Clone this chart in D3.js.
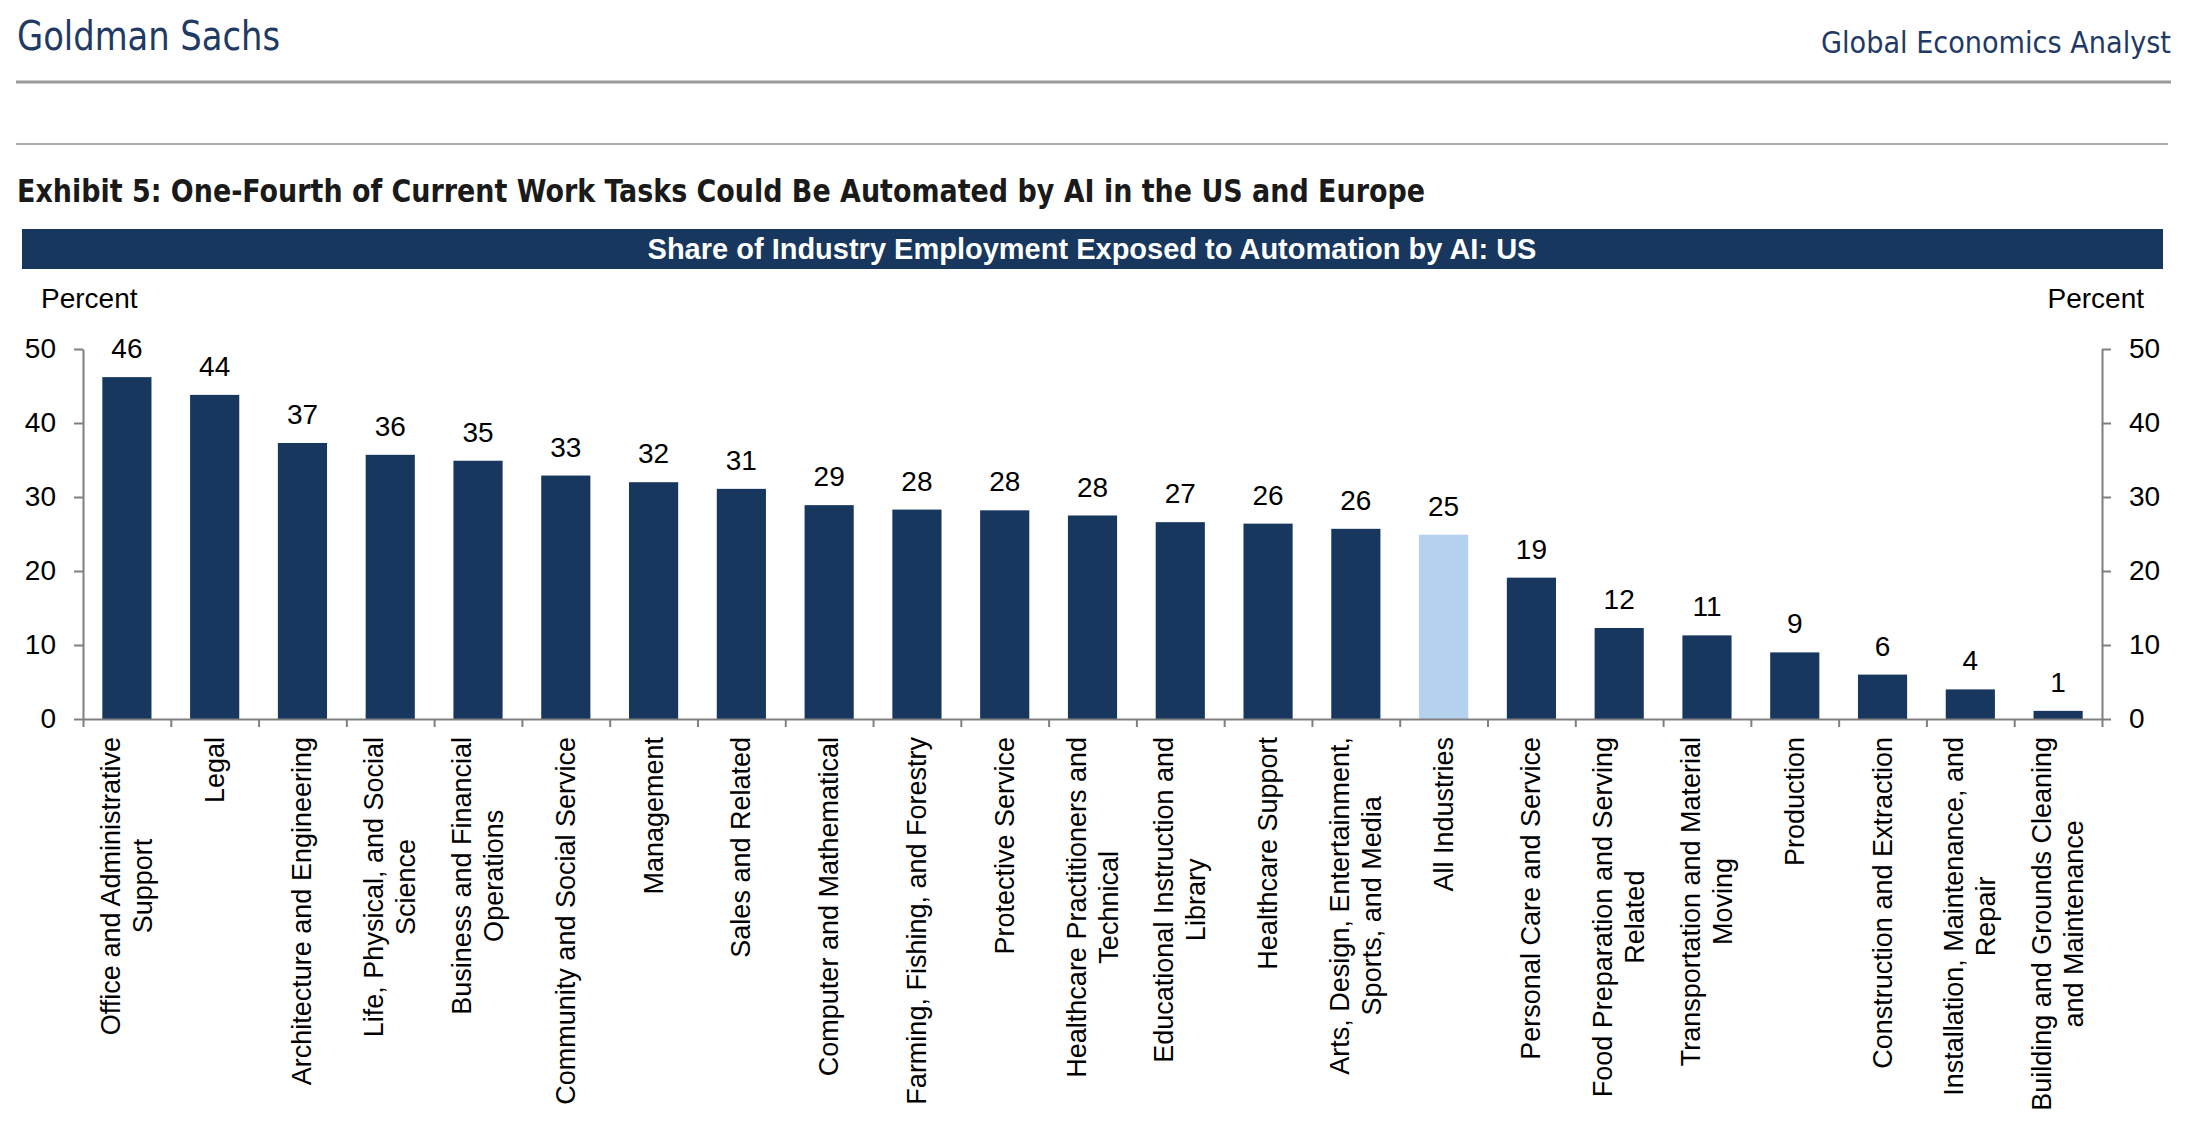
<!DOCTYPE html>
<html>
<head>
<meta charset="utf-8">
<script src="https://cdn.jsdelivr.net/npm/d3@7"></script>
<style>
  body { margin: 0; background: #fff; }
  text { font-family: "Liberation Sans", Arial, sans-serif; }
</style>
</head>
<body>
<script>
const width = 2206;
const height = 1122;
const margin = {top: 349, left: 83, bottom: 403, right: 104};

const categories = [
  'Office and Administrative\nSupport',
  'Legal',
  'Architecture and Engineering',
  'Life, Physical, and Social\nScience',
  'Business and Financial\nOperations',
  'Community and Social Service',
  'Management',
  'Sales and Related',
  'Computer and Mathematical',
  'Farming, Fishing, and Forestry',
  'Protective Service',
  'Healthcare Practitioners and\nTechnical',
  'Educational Instruction and\nLibrary',
  'Healthcare Support',
  'Arts, Design, Entertainment,\nSports, and Media',
  'All Industries',
  'Personal Care and Service',
  'Food Preparation and Serving\nRelated',
  'Transportation and Material\nMoving',
  'Production',
  'Construction and Extraction',
  'Installation, Maintenance, and\nRepair',
  'Building and Grounds Cleaning\nand Maintenance'
];
const values = [46.2, 43.8, 37.3, 35.7, 34.9, 32.9, 32.0, 31.1, 28.9, 28.3, 28.2, 27.5,
  26.6, 26.4, 25.7, 24.9, 19.1, 12.3, 11.3, 9.0, 6.0, 4.0, 1.1];
const highlight = ['All Industries'];
const yTicks = [0, 10, 20, 30, 40, 50];

const navy = '#17375e';
const light = '#b4d2ee';
const axisGray = '#7f7f7f';

const data = categories.map((c, i) => ({name: c, value: values[i]}));

const svg = d3.select('body').append('svg')
  .attr('width', width).attr('height', height);

// page header
svg.append('text')
  .attr('x', 17).attr('y', 50)
  .attr('textLength', 263).attr('lengthAdjust', 'spacingAndGlyphs')
  .style('font-family', '"Liberation Sans Narrow", "DejaVu Sans Condensed", sans-serif')
  .style('font-size', '40px').attr('fill', '#1f3a64')
  .text('Goldman Sachs');
svg.append('text')
  .attr('x', 2171).attr('y', 53).attr('text-anchor', 'end')
  .attr('textLength', 350).attr('lengthAdjust', 'spacingAndGlyphs')
  .style('font-family', '"Liberation Sans Narrow", "DejaVu Sans Condensed", sans-serif')
  .style('font-size', '30px').attr('fill', '#1f3a64')
  .text('Global Economics Analyst');
svg.append('line').attr('x1', 16).attr('x2', 2171).attr('y1', 82).attr('y2', 82)
  .attr('stroke', '#9a9a9a').attr('stroke-width', 3);
svg.append('line').attr('x1', 16).attr('x2', 2168).attr('y1', 144).attr('y2', 144)
  .attr('stroke', '#ababab').attr('stroke-width', 2);

svg.append('text')
  .attr('x', 17).attr('y', 202)
  .attr('textLength', 1408).attr('lengthAdjust', 'spacingAndGlyphs')
  .style('font-family', '"Liberation Sans Narrow", "DejaVu Sans Condensed", sans-serif')
  .style('font-size', '32px').style('font-weight', 'bold').attr('fill', '#1a1a1a')
  .text('Exhibit 5: One-Fourth of Current Work Tasks Could Be Automated by AI in the US and Europe');

// banner
svg.append('rect').attr('x', 22).attr('y', 229).attr('width', 2141).attr('height', 40)
  .attr('fill', navy);
svg.append('text')
  .attr('x', 1092).attr('y', 259).attr('text-anchor', 'middle')
  .style('font-size', '29px').style('font-weight', 'bold').attr('fill', '#fff')
  .text('Share of Industry Employment Exposed to Automation by AI: US');

// scales
const x = d3.scaleBand()
  .domain(categories)
  .range([margin.left, width - margin.right])
  .paddingInner(0.44).paddingOuter(0.22);

const xi = d3.scaleLinear()
  .domain([0, categories.length])
  .range([margin.left, width - margin.right]);

const y = d3.scaleLinear()
  .domain([0, 50])
  .range([height - margin.bottom, margin.top]);

const styleAxis = g => g
  .call(g => g.selectAll('.domain, line').attr('stroke', axisGray).attr('stroke-width', 2))
  .call(g => g.selectAll('text').attr('fill', '#000').style('font-size', '28px')
    .style('font-family', '"Liberation Sans", Arial, sans-serif'));

svg.append('g')
  .attr('transform', `translate(${margin.left},0)`)
  .call(d3.axisLeft(y).tickValues(yTicks).tickSize(9).tickSizeOuter(0).tickPadding(18))
  .call(styleAxis);

svg.append('g')
  .attr('transform', `translate(${width - margin.right},0)`)
  .call(d3.axisRight(y).tickValues(yTicks).tickSize(9).tickSizeOuter(0).tickPadding(18))
  .call(styleAxis);

// bars
svg.append('g')
  .selectAll('rect').data(data).enter().append('rect')
  .attr('x', d => x(d.name))
  .attr('y', d => y(d.value))
  .attr('width', x.bandwidth())
  .attr('height', d => y(0) - y(d.value))
  .attr('fill', d => highlight.includes(d.name) ? light : navy);

svg.append('g')
  .attr('transform', `translate(0,${height - margin.bottom})`)
  .call(d3.axisBottom(xi).tickValues(d3.range(categories.length + 1))
    .tickFormat('').tickSize(8).tickSizeOuter(0))
  .call(styleAxis);

// value labels
svg.append('g')
  .selectAll('text').data(data).enter().append('text')
  .attr('x', d => x(d.name) + x.bandwidth() / 2)
  .attr('y', d => y(d.value) - 19)
  .attr('text-anchor', 'middle')
  .style('font-size', '28px').attr('fill', '#000')
  .text(d => Math.round(d.value));

// category labels, rotated, lines centred on each other
const lineH = 32;
const cats = svg.append('g')
  .selectAll('g').data(data).enter().append('g')
  .attr('transform', d => `translate(${x(d.name) + x.bandwidth() / 2},${height - margin.bottom + 18}) rotate(-90)`);

cats.each(function(d) {
  const g = d3.select(this);
  const lines = d.name.split('\n');
  const texts = lines.map((l, i) => g.append('text')
    .attr('text-anchor', 'middle')
    .attr('dominant-baseline', 'central')
    .attr('y', (i - (lines.length - 1) / 2) * lineH)
    .style('font-size', '27px').attr('fill', '#000')
    .text(l));
  const w = d3.max(texts, t => t.node().getComputedTextLength());
  texts.forEach(t => t.attr('x', -w / 2));
});

// axis titles
svg.append('text').attr('x', 41).attr('y', 308)
  .style('font-size', '28px').attr('fill', '#000').text('Percent');
svg.append('text').attr('x', 2144).attr('y', 308).attr('text-anchor', 'end')
  .style('font-size', '28px').attr('fill', '#000').text('Percent');
</script>
</body>
</html>
